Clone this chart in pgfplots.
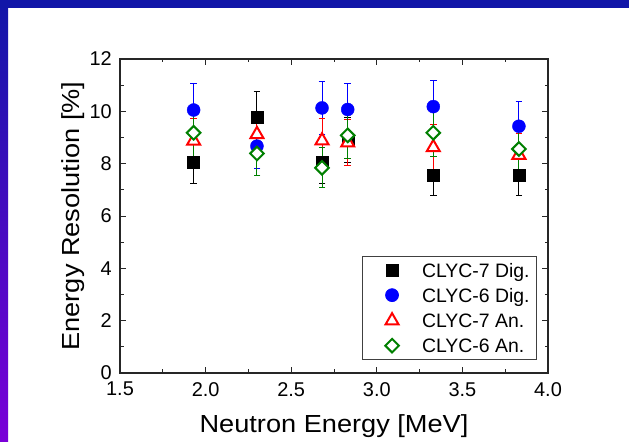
\documentclass[border=0pt]{standalone}
\usepackage{pgfplots}
\pgfplotsset{compat=1.18}
\usepackage{pgfplotstable}
\usepackage{fontspec}
\setmainfont{Liberation Sans}
\newfontfamily\labelfont[FakeStretch=1.1]{Liberation Sans}

\definecolor{bandtop}{HTML}{1116A8}
\definecolor{bandmid}{HTML}{1512C6}
\definecolor{bandbot}{HTML}{7A00D8}
\definecolor{cgreen}{HTML}{008000}

% energy [MeV], resolution [%], error [%]
\pgfplotstableread{
x    y     e
1.93 8.07  0.81
2.30 9.76  0.98
2.68 8.04  0.80
2.83 8.90  0.85
3.33 7.54  0.75
3.83 7.54  0.75
}\clycSevenDig
\pgfplotstableread{
x    y     e
1.93 10.05 1.02
2.30 8.67  0.87
2.68 10.13 1.00
2.83 10.07 1.00
3.33 10.18 1.00
3.83 9.43  0.94
}\clycSixDig
\pgfplotstableread{
x    y     e
1.93 8.87  0.85
2.30 9.12  0.85
2.68 8.88  0.85
2.83 8.80  0.88
3.33 8.62  0.86
3.83 8.33  0.83
}\clycSevenAn
\pgfplotstableread{
x    y     e
1.93 9.18  0.90
2.30 8.39  0.83
2.68 7.84  0.77
2.83 9.08  0.90
3.33 9.18  0.90
3.83 8.56  0.86
}\clycSixAn

\begin{document}
\begin{tikzpicture}[x=1bp,y=1bp]
\useasboundingbox (0,0) rectangle (629,442);
\fill[white] (0,0) rectangle (629,442);
% slide frame
\shade[top color=bandtop, middle color=bandmid, bottom color=bandbot] (0,0) rectangle (8,442);
\fill[bandtop] (0,434) rectangle (629,442);

\begin{axis}[
  at={(120bp,69bp)}, anchor=south west,
  scale only axis, width=428bp, height=314bp,
  xmin=1.5, xmax=4.0, ymin=0, ymax=12,
  xtick={1.5,2.0,2.5,3.0,3.5,4.0},
  ytick={0,2,4,6,8,10,12},
  minor x tick num=1, minor y tick num=1,
  tick align=inside,
  major tick length=6bp, minor tick length=3.5bp,
  axis line style={line width=1.2bp, black!85},
  every tick/.style={line width=0.9bp, black!85},
  /pgf/number format/assume math mode=true,
  xticklabel style={/pgf/number format/fixed, /pgf/number format/fixed zerofill,
    /pgf/number format/precision=1, anchor=north, yshift=-9bp},
  tick label style={font=\fontsize{20}{20}\selectfont, inner sep=0pt},
  yticklabel style={anchor=east, xshift=-8bp},
  xlabel={Neutron Energy [MeV]},
  ylabel={Energy Resolution [\%]},
  label style={font=\labelfont\fontsize{24.8}{24.8}\selectfont, inner sep=0pt},
  xlabel style={at={(axis description cs:0.5,-0.191)}, anchor=base},
  ylabel style={at={(axis description cs:-0.0946,0.5)}, anchor=base},
  legend cell align=left,
  legend image code/.code={%
    \path[draw=none, fill=none] (0bp,-4bp) rectangle (53bp,4bp);
    \draw[#1] plot coordinates {(23bp,0bp)};},
  legend style={
    at={(axis description cs:1,0)}, anchor=south east,
    xshift=-11bp, yshift=13bp,
    draw=black!75, line width=0.7bp,
    inner xsep=7bp, inner ysep=7bp,
    column sep=0bp, row sep=11bp,
    font=\fontsize{19.5}{19.5}\selectfont,
    nodes={inner sep=0pt, text height=14bp, text depth=0bp},
  },
  error bars/y dir=both, error bars/y explicit,
  error bars/error bar style={line width=1bp},
  error bars/error mark options={mark size=3.3bp, line width=1bp, rotate=90},
]
\addplot[only marks, black, mark=square*, mark size=6bp,
  mark options={fill=black}]
  table[x=x, y=y, y error=e] {\clycSevenDig};
\addlegendentry{CLYC-7 Dig.}

\addplot[only marks, blue, mark=*, mark size=6.5bp,
  mark options={fill=blue}]
  table[x=x, y=y, y error=e] {\clycSixDig};
\addlegendentry{CLYC-6 Dig.}

\addplot[only marks, red, mark=triangle*, mark size=7.5bp,
  mark options={fill=white, draw=red, line width=2bp}]
  table[x=x, y=y, y error=e] {\clycSevenAn};
\addlegendentry{CLYC-7 An.}

\addplot[only marks, cgreen, mark=square*, mark size=4.8bp,
  mark options={fill=white, draw=cgreen, line width=2bp, rotate=45}]
  table[x=x, y=y, y error=e] {\clycSixAn};
\addlegendentry{CLYC-6 An.}
\end{axis}
\end{tikzpicture}
\end{document}
